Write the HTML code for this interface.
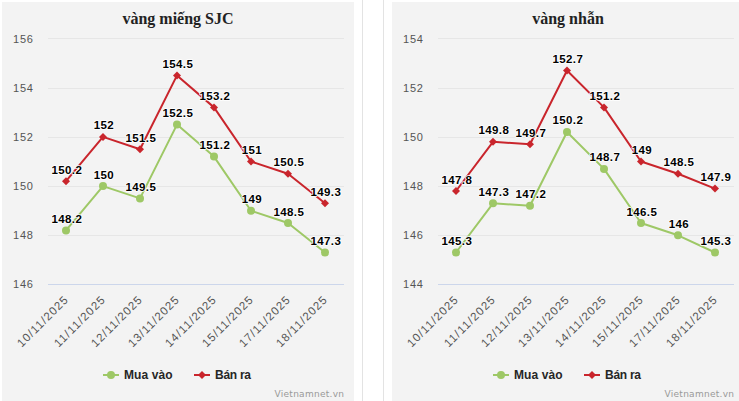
<!DOCTYPE html>
<html lang="vi"><head><meta charset="utf-8"><title>Giá vàng</title>
<style>
html,body{margin:0;padding:0;background:#fff;width:739px;height:401px;overflow:hidden}
svg{display:block}
.ttl{font-family:"Liberation Serif", serif;font-weight:bold;font-size:16px;fill:#222}
.yl{font-family:"Liberation Sans", sans-serif;font-size:11px;letter-spacing:0.8px;fill:#555}
.xl{font-family:"Liberation Sans", sans-serif;font-size:11.5px;fill:#555}
.dl{font-family:"Liberation Sans", sans-serif;font-weight:bold;font-size:11.5px;letter-spacing:0.35px;fill:#000;stroke:#fff;stroke-width:1.6px;stroke-linejoin:round;paint-order:stroke}
.lg{font-family:"Liberation Sans", sans-serif;font-weight:bold;font-size:12px;fill:#262626}
.cr{font-family:"DejaVu Sans", "Liberation Sans", sans-serif;font-size:9px;fill:#999}
</style></head>
<body>
<svg width="739" height="401" viewBox="0 0 739 401">
<rect width="739" height="401" fill="#fff"/>
<path d="M362.5 0V401M383.5 0V401" stroke="#e3e3e3" stroke-width="1"/>
<rect x="2" y="2" width="352" height="400" fill="#f3f3f3"/>
<text x="178" y="24" text-anchor="middle" class="ttl">vàng miếng SJC</text>
<path d="M48 284.5H344" stroke="#ccd6eb" stroke-width="1"/>
<text x="33.80" y="287.70" text-anchor="end" class="yl">146</text>
<path d="M48 235.5H344" stroke="#e6e6e6" stroke-width="1"/>
<text x="33.80" y="238.70" text-anchor="end" class="yl">148</text>
<path d="M48 186.5H344" stroke="#e6e6e6" stroke-width="1"/>
<text x="33.80" y="189.70" text-anchor="end" class="yl">150</text>
<path d="M48 137.5H344" stroke="#e6e6e6" stroke-width="1"/>
<text x="33.80" y="140.70" text-anchor="end" class="yl">152</text>
<path d="M48 88.5H344" stroke="#e6e6e6" stroke-width="1"/>
<text x="33.80" y="91.70" text-anchor="end" class="yl">154</text>
<path d="M48 38.5H344" stroke="#e6e6e6" stroke-width="1"/>
<text x="33.80" y="42.70" text-anchor="end" class="yl">156</text>
<text transform="translate(68.50,301) rotate(-45)" text-anchor="end" class="xl" textLength="66">10/11/2025</text>
<text transform="translate(105.50,301) rotate(-45)" text-anchor="end" class="xl" textLength="66">11/11/2025</text>
<text transform="translate(142.50,301) rotate(-45)" text-anchor="end" class="xl" textLength="66">12/11/2025</text>
<text transform="translate(179.50,301) rotate(-45)" text-anchor="end" class="xl" textLength="66">13/11/2025</text>
<text transform="translate(216.50,301) rotate(-45)" text-anchor="end" class="xl" textLength="66">14/11/2025</text>
<text transform="translate(253.50,301) rotate(-45)" text-anchor="end" class="xl" textLength="66">15/11/2025</text>
<text transform="translate(290.50,301) rotate(-45)" text-anchor="end" class="xl" textLength="66">17/11/2025</text>
<text transform="translate(327.50,301) rotate(-45)" text-anchor="end" class="xl" textLength="66">18/11/2025</text>
<path d="M66.00 230.38 L103.00 186.10 L140.00 198.40 L177.00 124.60 L214.00 156.58 L251.00 210.70 L288.00 223.00 L325.00 252.52" fill="none" stroke="#9ec866" stroke-width="2" stroke-linejoin="round" stroke-linecap="round"/>
<circle cx="66.00" cy="230.38" r="4" fill="#9ec866"/>
<circle cx="103.00" cy="186.10" r="4" fill="#9ec866"/>
<circle cx="140.00" cy="198.40" r="4" fill="#9ec866"/>
<circle cx="177.00" cy="124.60" r="4" fill="#9ec866"/>
<circle cx="214.00" cy="156.58" r="4" fill="#9ec866"/>
<circle cx="251.00" cy="210.70" r="4" fill="#9ec866"/>
<circle cx="288.00" cy="223.00" r="4" fill="#9ec866"/>
<circle cx="325.00" cy="252.52" r="4" fill="#9ec866"/>
<path d="M66.00 181.18 L103.00 136.90 L140.00 149.20 L177.00 75.40 L214.00 107.38 L251.00 161.50 L288.00 173.80 L325.00 203.32" fill="none" stroke="#c9252c" stroke-width="2" stroke-linejoin="round" stroke-linecap="round"/>
<path d="M66.00 177.18L70.00 181.18L66.00 185.18L62.00 181.18Z" fill="#c9252c"/>
<path d="M103.00 132.90L107.00 136.90L103.00 140.90L99.00 136.90Z" fill="#c9252c"/>
<path d="M140.00 145.20L144.00 149.20L140.00 153.20L136.00 149.20Z" fill="#c9252c"/>
<path d="M177.00 71.40L181.00 75.40L177.00 79.40L173.00 75.40Z" fill="#c9252c"/>
<path d="M214.00 103.38L218.00 107.38L214.00 111.38L210.00 107.38Z" fill="#c9252c"/>
<path d="M251.00 157.50L255.00 161.50L251.00 165.50L247.00 161.50Z" fill="#c9252c"/>
<path d="M288.00 169.80L292.00 173.80L288.00 177.80L284.00 173.80Z" fill="#c9252c"/>
<path d="M325.00 199.32L329.00 203.32L325.00 207.32L321.00 203.32Z" fill="#c9252c"/>
<text x="66.88" y="222.88" text-anchor="middle" class="dl">148.2</text>
<text x="103.88" y="178.60" text-anchor="middle" class="dl">150</text>
<text x="140.88" y="190.90" text-anchor="middle" class="dl">149.5</text>
<text x="177.88" y="117.10" text-anchor="middle" class="dl">152.5</text>
<text x="214.88" y="149.08" text-anchor="middle" class="dl">151.2</text>
<text x="251.88" y="203.20" text-anchor="middle" class="dl">149</text>
<text x="288.88" y="215.50" text-anchor="middle" class="dl">148.5</text>
<text x="325.88" y="245.02" text-anchor="middle" class="dl">147.3</text>
<text x="66.88" y="173.68" text-anchor="middle" class="dl">150.2</text>
<text x="103.88" y="129.40" text-anchor="middle" class="dl">152</text>
<text x="140.88" y="141.70" text-anchor="middle" class="dl">151.5</text>
<text x="177.88" y="67.90" text-anchor="middle" class="dl">154.5</text>
<text x="214.88" y="99.88" text-anchor="middle" class="dl">153.2</text>
<text x="251.88" y="154.00" text-anchor="middle" class="dl">151</text>
<text x="288.88" y="166.30" text-anchor="middle" class="dl">150.5</text>
<text x="325.88" y="195.82" text-anchor="middle" class="dl">149.3</text>
<path d="M103 375H119" stroke="#9ec866" stroke-width="2"/>
<circle cx="111" cy="375" r="4" fill="#9ec866"/>
<text x="124" y="379" class="lg" textLength="48.5">Mua vào</text>
<path d="M194 375H210" stroke="#c9252c" stroke-width="2"/>
<path d="M202 371L206 375L202 379L198 375Z" fill="#c9252c"/>
<text x="215" y="379" class="lg" textLength="36">Bán ra</text>
<text x="344" y="397" text-anchor="end" class="cr" textLength="69.5">Vietnamnet.vn</text>
<rect x="392" y="2" width="352" height="400" fill="#f3f3f3"/>
<text x="568" y="24" text-anchor="middle" class="ttl">vàng nhẫn</text>
<path d="M438 284.5H734" stroke="#ccd6eb" stroke-width="1"/>
<text x="423.80" y="287.70" text-anchor="end" class="yl">144</text>
<path d="M438 235.5H734" stroke="#e6e6e6" stroke-width="1"/>
<text x="423.80" y="238.70" text-anchor="end" class="yl">146</text>
<path d="M438 186.5H734" stroke="#e6e6e6" stroke-width="1"/>
<text x="423.80" y="189.70" text-anchor="end" class="yl">148</text>
<path d="M438 137.5H734" stroke="#e6e6e6" stroke-width="1"/>
<text x="423.80" y="140.70" text-anchor="end" class="yl">150</text>
<path d="M438 88.5H734" stroke="#e6e6e6" stroke-width="1"/>
<text x="423.80" y="91.70" text-anchor="end" class="yl">152</text>
<path d="M438 38.5H734" stroke="#e6e6e6" stroke-width="1"/>
<text x="423.80" y="42.70" text-anchor="end" class="yl">154</text>
<text transform="translate(458.50,301) rotate(-45)" text-anchor="end" class="xl" textLength="66">10/11/2025</text>
<text transform="translate(495.50,301) rotate(-45)" text-anchor="end" class="xl" textLength="66">11/11/2025</text>
<text transform="translate(532.50,301) rotate(-45)" text-anchor="end" class="xl" textLength="66">12/11/2025</text>
<text transform="translate(569.50,301) rotate(-45)" text-anchor="end" class="xl" textLength="66">13/11/2025</text>
<text transform="translate(606.50,301) rotate(-45)" text-anchor="end" class="xl" textLength="66">14/11/2025</text>
<text transform="translate(643.50,301) rotate(-45)" text-anchor="end" class="xl" textLength="66">15/11/2025</text>
<text transform="translate(680.50,301) rotate(-45)" text-anchor="end" class="xl" textLength="66">17/11/2025</text>
<text transform="translate(717.50,301) rotate(-45)" text-anchor="end" class="xl" textLength="66">18/11/2025</text>
<path d="M456.00 252.52 L493.00 203.32 L530.00 205.78 L567.00 131.98 L604.00 168.88 L641.00 223.00 L678.00 235.30 L715.00 252.52" fill="none" stroke="#9ec866" stroke-width="2" stroke-linejoin="round" stroke-linecap="round"/>
<circle cx="456.00" cy="252.52" r="4" fill="#9ec866"/>
<circle cx="493.00" cy="203.32" r="4" fill="#9ec866"/>
<circle cx="530.00" cy="205.78" r="4" fill="#9ec866"/>
<circle cx="567.00" cy="131.98" r="4" fill="#9ec866"/>
<circle cx="604.00" cy="168.88" r="4" fill="#9ec866"/>
<circle cx="641.00" cy="223.00" r="4" fill="#9ec866"/>
<circle cx="678.00" cy="235.30" r="4" fill="#9ec866"/>
<circle cx="715.00" cy="252.52" r="4" fill="#9ec866"/>
<path d="M456.00 191.02 L493.00 141.82 L530.00 144.28 L567.00 70.48 L604.00 107.38 L641.00 161.50 L678.00 173.80 L715.00 188.56" fill="none" stroke="#c9252c" stroke-width="2" stroke-linejoin="round" stroke-linecap="round"/>
<path d="M456.00 187.02L460.00 191.02L456.00 195.02L452.00 191.02Z" fill="#c9252c"/>
<path d="M493.00 137.82L497.00 141.82L493.00 145.82L489.00 141.82Z" fill="#c9252c"/>
<path d="M530.00 140.28L534.00 144.28L530.00 148.28L526.00 144.28Z" fill="#c9252c"/>
<path d="M567.00 66.48L571.00 70.48L567.00 74.48L563.00 70.48Z" fill="#c9252c"/>
<path d="M604.00 103.38L608.00 107.38L604.00 111.38L600.00 107.38Z" fill="#c9252c"/>
<path d="M641.00 157.50L645.00 161.50L641.00 165.50L637.00 161.50Z" fill="#c9252c"/>
<path d="M678.00 169.80L682.00 173.80L678.00 177.80L674.00 173.80Z" fill="#c9252c"/>
<path d="M715.00 184.56L719.00 188.56L715.00 192.56L711.00 188.56Z" fill="#c9252c"/>
<text x="456.88" y="245.02" text-anchor="middle" class="dl">145.3</text>
<text x="493.88" y="195.82" text-anchor="middle" class="dl">147.3</text>
<text x="530.88" y="198.28" text-anchor="middle" class="dl">147.2</text>
<text x="567.88" y="124.48" text-anchor="middle" class="dl">150.2</text>
<text x="604.88" y="161.38" text-anchor="middle" class="dl">148.7</text>
<text x="641.88" y="215.50" text-anchor="middle" class="dl">146.5</text>
<text x="678.88" y="227.80" text-anchor="middle" class="dl">146</text>
<text x="715.88" y="245.02" text-anchor="middle" class="dl">145.3</text>
<text x="456.88" y="183.52" text-anchor="middle" class="dl">147.8</text>
<text x="493.88" y="134.32" text-anchor="middle" class="dl">149.8</text>
<text x="530.88" y="136.78" text-anchor="middle" class="dl">149.7</text>
<text x="567.88" y="62.98" text-anchor="middle" class="dl">152.7</text>
<text x="604.88" y="99.88" text-anchor="middle" class="dl">151.2</text>
<text x="641.88" y="154.00" text-anchor="middle" class="dl">149</text>
<text x="678.88" y="166.30" text-anchor="middle" class="dl">148.5</text>
<text x="715.88" y="181.06" text-anchor="middle" class="dl">147.9</text>
<path d="M493 375H509" stroke="#9ec866" stroke-width="2"/>
<circle cx="501" cy="375" r="4" fill="#9ec866"/>
<text x="514" y="379" class="lg" textLength="48.5">Mua vào</text>
<path d="M584 375H600" stroke="#c9252c" stroke-width="2"/>
<path d="M592 371L596 375L592 379L588 375Z" fill="#c9252c"/>
<text x="605" y="379" class="lg" textLength="36">Bán ra</text>
<text x="734" y="397" text-anchor="end" class="cr" textLength="69.5">Vietnamnet.vn</text>
</svg>
</body></html>
